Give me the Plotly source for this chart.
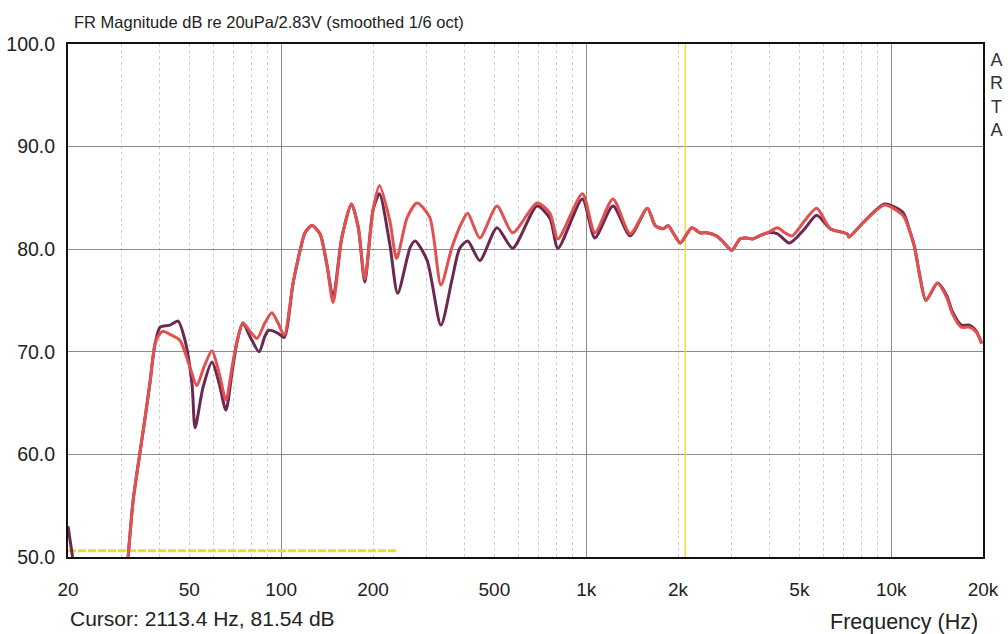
import plotly.graph_objects as go

# ---- data ----
red_freq = [31.5, 32.7, 34.4, 35.8, 37.1, 38.6, 40.1, 41.0, 43.2, 46.6, 50.2, 52.9, 55.8, 59.3, 62.5,
            65.9, 69.0, 71.7, 74.9, 79.0, 83.3, 88.4, 93.2, 97.7, 102.3, 109.4, 115.4, 119.7, 126.2,
            134, 141, 148, 158, 170, 179, 188, 200, 210, 227, 239, 259, 279, 307, 334, 363, 394,
            409, 448, 510, 574, 690, 761, 808, 972, 1068, 1224, 1394, 1587, 1684, 1788, 1856,
            1928, 2034, 2220, 2360, 2485, 2674, 2796, 3006, 3190, 3360, 3512, 3700, 3936, 4240,
            4480, 4740, 5210, 5700, 6310, 7170, 7270, 8100, 9520, 10920, 11500, 11930, 12380,
            13000, 14180, 15200, 15880, 16980, 18040, 19020, 19800]
red_db = [50.0, 55.5, 60.1, 63.6, 66.9, 70.8, 71.8, 72.0, 71.7, 71.1, 68.5, 66.7, 68.5, 70.1, 68.0,
          65.3, 68.5, 71.1, 72.8, 72.0, 71.3, 72.8, 73.8, 72.8, 71.6, 76.7, 79.9, 81.6, 82.3,
          81.5, 78.6, 74.8, 81.1, 84.4, 82.1, 77.1, 83.8, 86.2, 82.8, 79.1, 83.1, 84.5, 83.1, 76.5,
          80.2, 82.8, 83.5, 81.1, 84.2, 81.6, 84.5, 83.5, 81.0, 85.4, 81.6, 84.9, 81.5, 84.0, 82.3,
          82.0, 82.3, 81.6, 80.6, 82.1, 81.6, 81.6, 81.3, 80.8, 79.9, 81.0, 81.1, 81.0, 81.3, 81.6,
          82.1, 81.6, 81.3, 82.8, 84.0, 82.0, 81.5, 81.2, 82.6, 84.3, 83.3, 81.8, 80.2, 77.6,
          75.0, 76.7, 75.3, 73.7, 72.4, 72.4, 71.9, 70.8]

dark_freq = [31.5, 32.7, 34.4, 35.8, 37.1, 38.6, 40.1, 43.2, 45.9, 48.4, 51.0, 52.2, 55.4, 59.3, 62.5,
             65.9, 69.0, 71.7, 74.9, 79.0, 84.6, 88.4, 91.0, 97.7, 102.3, 109.4, 115.4, 119.7, 126.2,
             134, 141, 148, 158, 170, 179, 188, 200, 210, 227, 241, 265, 275, 301, 334, 363, 385,
             409, 448, 510, 574, 690, 761, 808, 972, 1068, 1224, 1394, 1587, 1684, 1788, 1856,
             1928, 2034, 2220, 2360, 2485, 2674, 2796, 3006, 3190, 3360, 3512, 3700, 3936, 4240,
             4640, 5210, 5700, 6310, 7170, 7270, 8100, 9520, 10920, 11500, 11930, 12380,
             13000, 14180, 15200, 15880, 16980, 18040, 19020, 19800]
dark_db = [50.0, 55.5, 60.1, 63.6, 66.9, 70.8, 72.4, 72.6, 73.0, 71.1, 66.9, 62.6, 66.5, 69.0, 67.0,
           64.3, 68.0, 71.0, 72.8, 71.5, 70.0, 71.5, 72.1, 71.8, 71.4, 76.7, 79.9, 81.6, 82.3,
           81.5, 78.6, 75.3, 81.1, 84.4, 82.1, 76.8, 83.8, 85.4, 80.5, 75.7, 80.2, 80.8, 78.9, 72.6,
           77.0, 80.1, 80.8, 78.9, 82.1, 80.1, 84.2, 83.0, 80.1, 84.9, 81.1, 84.2, 81.3, 84.0, 82.3,
           82.0, 82.3, 81.6, 80.6, 82.1, 81.6, 81.6, 81.3, 80.8, 79.9, 81.0, 81.1, 81.0, 81.3, 81.6,
           81.5, 80.6, 82.0, 83.3, 82.0, 81.5, 81.2, 82.6, 84.4, 83.6, 81.8, 80.2, 77.6,
           75.0, 76.7, 75.5, 73.9, 72.6, 72.6, 72.0, 70.8]

dark_edge_freq = [20.0, 20.3, 20.7]
dark_edge_db = [53.0, 51.5, 50.0]

cursor_freq = 2113.4
floor_freq = [20, 239]
floor_db = [50.6, 50.6]

x_tick_vals = [20, 50, 100, 200, 500, 1000, 2000, 5000, 10000, 20000]
x_tick_text = ["20", "50", "100", "200", "500", "1k", "2k", "5k", "10k", "20k"]
x_minor_vals = [20, 30, 40, 50, 60, 70, 80, 90, 200, 300, 400, 500, 600, 700, 800, 900,
                2000, 3000, 4000, 5000, 6000, 7000, 8000, 9000, 20000]
x_major_vals = [100, 1000, 10000]
y_tick_vals = [50, 60, 70, 80, 90, 100]
y_tick_text = ["50.0", "60.0", "70.0", "80.0", "90.0", "100.0"]

FONT = "Liberation Sans, Arial, sans-serif"
LINE = dict(width=3, shape="spline", smoothing=0.7)

fig = go.Figure()
fig.add_trace(go.Scatter(x=floor_freq, y=floor_db, mode="lines",
                         line=dict(color="#e6dc3a", width=3, dash="8px,2px"), showlegend=False))
fig.add_trace(go.Scatter(x=[cursor_freq, cursor_freq], y=[50, 100], mode="lines",
                         line=dict(color="#e8e040", width=1.5), showlegend=False))
fig.add_trace(go.Scatter(x=dark_edge_freq, y=dark_edge_db, mode="lines",
                         line=dict(color="#6b2850", width=3), showlegend=False))
fig.add_trace(go.Scatter(x=dark_freq, y=dark_db, mode="lines",
                         line=dict(color="#6b2850", **LINE), showlegend=False))
fig.add_trace(go.Scatter(x=red_freq, y=red_db, mode="lines",
                         line=dict(color="#e25050", **LINE), showlegend=False))
# invisible trace to carry the major-grid axis
fig.add_trace(go.Scatter(x=[20, 20000], y=[50, 50], mode="lines", xaxis="x2",
                         line=dict(width=0), opacity=0, showlegend=False, hoverinfo="skip"))

fig.update_layout(
    width=1008, height=634,
    margin=dict(l=68, r=25, t=44, b=77, autoexpand=False),
    paper_bgcolor="white", plot_bgcolor="white",
    font=dict(family=FONT, size=19, color="#222222"),
    xaxis=dict(type="log", range=[1.30103, 4.30103], automargin=False,
               tickvals=x_tick_vals, ticktext=x_tick_text, ticks="",
               ticklabelstandoff=14, showgrid=False, zeroline=False,
               showline=True, linecolor="#111111", linewidth=2, mirror=True,
               minor=dict(tickvals=x_minor_vals, showgrid=True, gridcolor="#cfcfcf",
                          griddash="dot", gridwidth=1, ticks=""),
               tickfont=dict(size=19)),
    xaxis2=dict(type="log", range=[1.30103, 4.30103], overlaying="x", automargin=False,
                tickvals=x_major_vals, showticklabels=False, ticks="",
                showgrid=True, gridcolor="#8a8a8a", gridwidth=1, zeroline=False),
    yaxis=dict(range=[50, 100], tickvals=y_tick_vals, ticktext=y_tick_text, ticks="",
               automargin=False,
               ticklabelstandoff=7, showgrid=True, gridcolor="#8a8a8a", gridwidth=1,
               zeroline=False, showline=True, linecolor="#111111", linewidth=2, mirror=True,
               tickfont=dict(size=19.5)),
    annotations=[
        dict(text="FR Magnitude dB re 20uPa/2.83V (smoothed 1/6 oct)", xref="paper", yref="paper",
             x=0.004, y=1.043, xanchor="left", yanchor="middle", showarrow=False,
             font=dict(size=16.5, color="#222222")),
        dict(text="Cursor: 2113.4 Hz, 81.54 dB", xref="paper", yref="paper",
             x=0.0, y=-0.119, xanchor="left", yanchor="middle", showarrow=False,
             font=dict(size=21, color="#222222")),
        dict(text="Frequency (Hz)", xref="paper", yref="paper",
             x=0.997, y=-0.127, xanchor="right", yanchor="middle", showarrow=False,
             font=dict(size=21.5, color="#222222")),
        dict(text="A<br>R<br>T<br>A", xref="paper", yref="paper",
             x=1.0, y=0.992, xanchor="left", yanchor="top", xshift=5, showarrow=False,
             font=dict(size=18, color="#333333")),
    ],
)

fig.write_html("out.html", config={"displayModeBar": False},
               post_script="document.body.style.margin='0';")
